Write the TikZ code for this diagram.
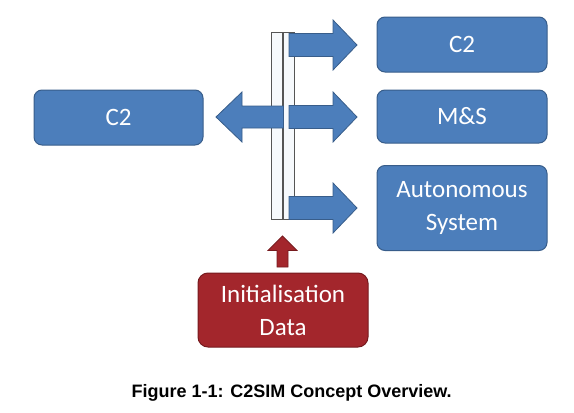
\documentclass[tikz,border=0pt]{standalone}
\usepackage{fontspec}
\setmainfont{Carlito}
\newfontfamily\capfont{Liberation Sans}
\definecolor{boxblue}{RGB}{76,126,187}
\definecolor{edgeblue}{RGB}{56,93,138}
\definecolor{boxred}{RGB}{163,38,44}
\definecolor{edgered}{RGB}{118,26,30}
\definecolor{bargray}{RGB}{85,85,85}
\definecolor{barfill}{RGB}{246,249,252}
\tikzset{
  bluebox/.style={draw=edgeblue,line width=1pt,fill=boxblue,rounded corners=8pt,
    text=white,minimum width=170pt,inner sep=0pt,align=center,
    font=\fontsize{25}{33}\selectfont},
  redbox/.style={bluebox,draw=edgered,fill=boxred,rounded corners=10pt},
  blockarrow/.style={draw=edgeblue,line width=.8pt,fill=boxblue,line join=miter},
  bar/.style={draw=bargray,line width=1pt,fill=barfill}
}
\begin{document}
\begin{tikzpicture}[x=1pt,y=-1pt]
\useasboundingbox (0,0) rectangle (574,413);
% Boîtes
\node[bluebox,minimum height=55pt,minimum width=169pt] (c2left) at (118.5,117.5) {C2};
\node[bluebox,minimum height=55pt] (c2right) at (462,44.5) {C2};
\node[bluebox,minimum height=53pt] (ms) at (462,116.5) {M\&S};
\node[bluebox,minimum height=85pt] (auto) at (462,208) {Autonomous\\System};
\node[redbox,minimum height=74pt] (init) at (283,310) {Initialisation\\Data};
% Barre verticale
\draw[bar] (271,32) rectangle (282,219) ;
\draw[bar] (283,32) rectangle (294,219) ;
% Flèches vers la droite
\foreach \y in {45,117,208}
{
  \draw[blockarrow] (289,\y-11.5) -- (333,\y-11.5) -- (333,\y-25) -- %
    (357,\y) -- (333,\y+25) -- (333,\y+11.5) -- (289,\y+11.5) -- cycle ;
}
% Flèche vers la gauche
\draw[blockarrow] (283.5,106) -- (242,106) -- (242,92) -- (216,117) -- %
  (242,142) -- (242,128) -- (283.5,128) -- cycle ;
% Flèche rouge
\draw[blockarrow,draw=edgered,fill=boxred] (277,267) -- (277,250.5) -- %
  (268,250.5) -- (282.5,236) -- (297,250.5) -- (288,250.5) -- (288,267) -- cycle ;
\node[font=\capfont\bfseries\fontsize{18}{22}\selectfont] (caption) at (291.7,393) %
  {Figure 1-1: C2SIM Concept Overview.} ;
\end{tikzpicture}
\end{document}
